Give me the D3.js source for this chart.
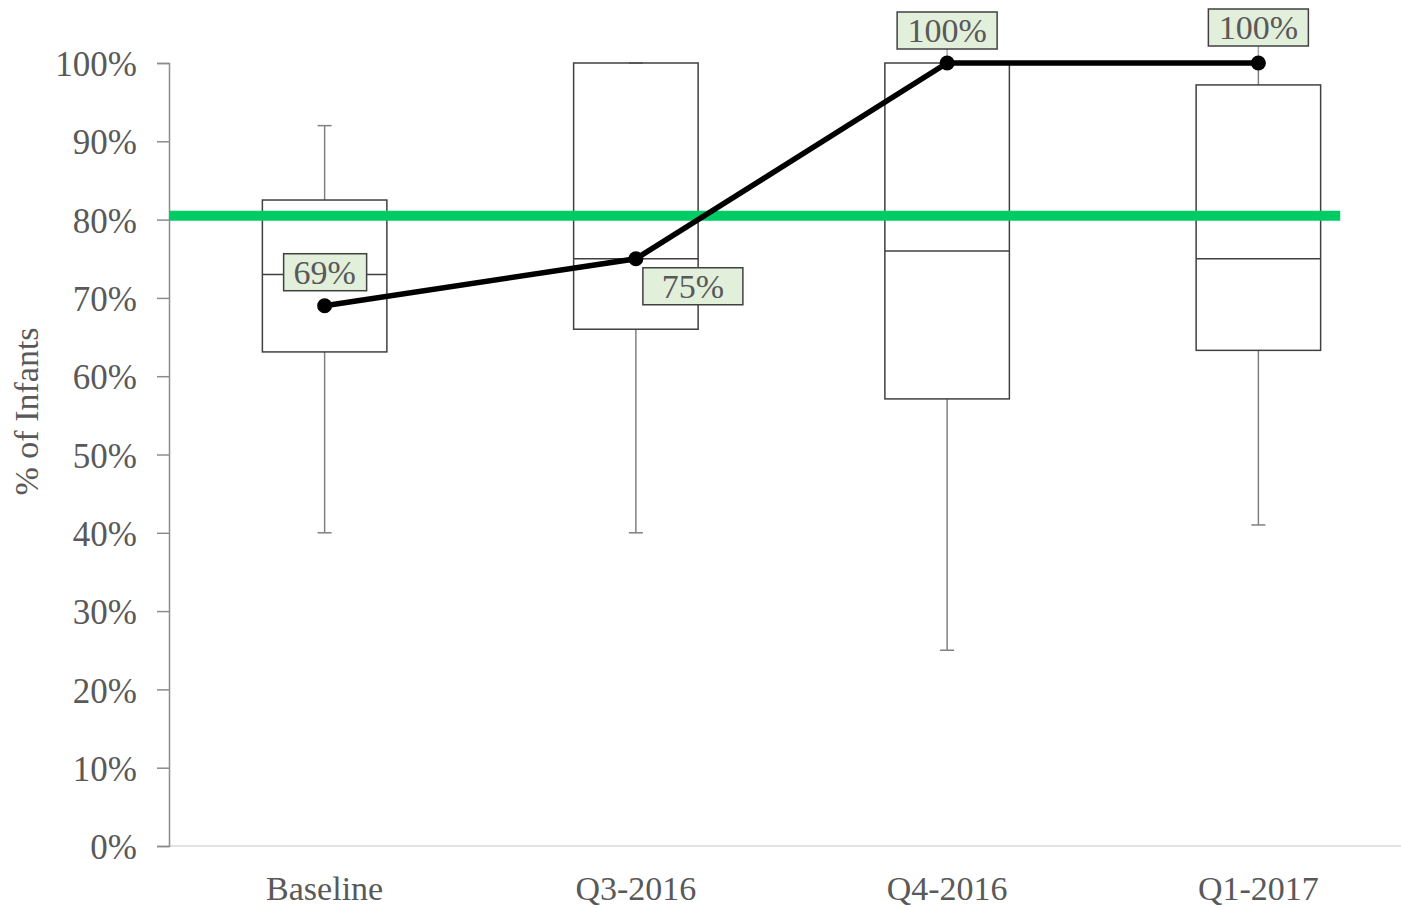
<!DOCTYPE html>
<html>
<head>
<meta charset="utf-8">
<script src="https://cdn.jsdelivr.net/npm/d3@7"></script>
<style>
  body { margin: 0; background: #fff; }
  svg text { font-family: "Liberation Serif", "DejaVu Serif", serif; fill: #595959; }
</style>
</head>
<body>
<svg id="chart"></svg>
<script>
var categories = ["Baseline", "Q3-2016", "Q4-2016", "Q1-2017"];
var whiskerMin = [40, 40, 25, 41];
var boxQ1 = [63.1, 66, 57.1, 63.3];
var boxMedian = [73, 75, 76, 75];
var boxQ3 = [82.5, 100, 100, 97.2];
var whiskerMax = [92, 100, 100, 100];
var lineValues = [69, 75, 100, 100];
var lineLabels = ["69%", "75%", "100%", "100%"];
var target = 80.5;
var yTicks = [0, 10, 20, 30, 40, 50, 60, 70, 80, 90, 100];

var w = 1401;
var h = 908;

var svg = d3.select("#chart")
  .attr("width", w)
  .attr("height", h);

var xScale = d3.scaleBand()
  .domain(categories)
  .range([169, 1414])
  .padding(0);

var yScale = d3.scaleLinear()
  .domain([0, 100])
  .range([846, 63]);

var bw = xScale.bandwidth();
var boxW = bw * 0.4;
function cx(c) { return xScale(c) + bw / 2; }

// x axis line
svg.append("line")
  .attr("x1", 169).attr("x2", w)
  .attr("y1", yScale(0)).attr("y2", yScale(0))
  .attr("stroke", "#d9d9d9").attr("stroke-width", 1.5);

var xAxis = d3.axisBottom(xScale).tickSize(0).tickPadding(30);
var gx = svg.append("g")
  .attr("transform", "translate(0," + yScale(0) + ")")
  .call(xAxis);
gx.select(".domain").remove();
gx.selectAll("text").attr("font-size", 34).attr("fill", "#595959")
  .style("font-family", "'Liberation Serif', serif");

var yAxis = d3.axisLeft(yScale)
  .tickValues(yTicks)
  .tickSizeOuter(0)
  .tickSize(12)
  .tickPadding(20)
  .tickFormat(function(d){ return d + "%"; });
var gy = svg.append("g")
  .attr("transform", "translate(169,0)")
  .call(yAxis);
gy.select(".domain").attr("stroke", "#8c8c8c").attr("stroke-width", 1.5);
gy.selectAll(".tick line").attr("stroke", "#8c8c8c").attr("stroke-width", 1.5);
gy.selectAll("text").attr("font-size", 35).attr("fill", "#595959")
  .attr("dy", "0.36em")
  .style("font-family", "'Liberation Serif', serif");

svg.append("text")
  .attr("transform", "translate(38," + yScale(55.5) + ") rotate(-90)")
  .attr("text-anchor", "middle")
  .attr("font-size", 34)
  .text("% of Infants");

// whiskers
var boxes = svg.append("g").selectAll("g")
  .data(categories)
  .enter().append("g");

boxes.append("line")
  .attr("x1", function(d){ return cx(d); })
  .attr("x2", function(d){ return cx(d); })
  .attr("y1", function(d, i){ return yScale(whiskerMin[i]); })
  .attr("y2", function(d, i){ return yScale(boxQ1[i]); })
  .attr("stroke", "#808080").attr("stroke-width", 1.5);
boxes.append("line")
  .attr("x1", function(d){ return cx(d); })
  .attr("x2", function(d){ return cx(d); })
  .attr("y1", function(d, i){ return yScale(whiskerMax[i]); })
  .attr("y2", function(d, i){ return yScale(boxQ3[i]); })
  .attr("stroke", "#808080").attr("stroke-width", 1.5);
boxes.append("line")
  .attr("x1", function(d){ return cx(d) - 7; })
  .attr("x2", function(d){ return cx(d) + 7; })
  .attr("y1", function(d, i){ return yScale(whiskerMin[i]); })
  .attr("y2", function(d, i){ return yScale(whiskerMin[i]); })
  .attr("stroke", "#808080").attr("stroke-width", 1.5);
boxes.append("line")
  .attr("x1", function(d){ return cx(d) - 7; })
  .attr("x2", function(d){ return cx(d) + 7; })
  .attr("y1", function(d, i){ return yScale(whiskerMax[i]); })
  .attr("y2", function(d, i){ return yScale(whiskerMax[i]); })
  .attr("stroke", "#808080").attr("stroke-width", 1.5);

boxes.append("rect")
  .attr("x", function(d){ return cx(d) - boxW / 2; })
  .attr("width", boxW)
  .attr("y", function(d, i){ return yScale(boxQ3[i]); })
  .attr("height", function(d, i){ return yScale(boxQ1[i]) - yScale(boxQ3[i]); })
  .attr("fill", "none")
  .attr("stroke", "#404040").attr("stroke-width", 1.5);
boxes.append("line")
  .attr("x1", function(d){ return cx(d) - boxW / 2; })
  .attr("x2", function(d){ return cx(d) + boxW / 2; })
  .attr("y1", function(d, i){ return yScale(boxMedian[i]); })
  .attr("y2", function(d, i){ return yScale(boxMedian[i]); })
  .attr("stroke", "#404040").attr("stroke-width", 1.5);

// target line
svg.append("line")
  .attr("x1", xScale(categories[0]))
  .attr("x2", cx(categories[3]) + bw * 0.263)
  .attr("y1", yScale(target)).attr("y2", yScale(target))
  .attr("stroke", "#00cc66").attr("stroke-width", 10);

// trend line
var line = d3.line()
  .x(function(d, i){ return cx(categories[i]); })
  .y(function(d){ return yScale(d); });
svg.append("path")
  .datum(lineValues)
  .attr("d", line)
  .attr("fill", "none")
  .attr("stroke", "#000").attr("stroke-width", 5.5);

// labels
var labelOffsets = [[0, -34], [57, 27], [0, -33], [0, -36]];
var lbl = svg.append("g").selectAll("g")
  .data(lineValues)
  .enter().append("g")
  .attr("transform", function(d, i){
    return "translate(" + (cx(categories[i]) + labelOffsets[i][0]) + "," + (yScale(d) + labelOffsets[i][1]) + ")";
  });
lbl.filter(function(d, i){ return i >= 2; }).append("line")
  .attr("x1", 0).attr("x2", 0)
  .attr("y1", 18).attr("y2", function(d, i){ return -labelOffsets[i + 2][1]; })
  .attr("stroke", "#a6a6a6").attr("stroke-width", 1.5);
lbl.append("rect")
  .attr("x", function(d, i){ return i == 0 ? -41 : -50; })
  .attr("width", function(d, i){ return i == 0 ? 83 : 100; })
  .attr("y", -18).attr("height", 37)
  .attr("fill", "#e2efda")
  .attr("stroke", "#404040").attr("stroke-width", 1.5);
lbl.append("text")
  .attr("text-anchor", "middle")
  .attr("dy", "0.35em")
  .attr("font-size", 34)
  .text(function(d, i){ return lineLabels[i]; });

svg.append("g").selectAll("circle")
  .data(lineValues)
  .enter().append("circle")
  .attr("cx", function(d, i){ return cx(categories[i]); })
  .attr("cy", function(d){ return yScale(d); })
  .attr("r", 7.5)
  .attr("fill", "#000");
</script>
</body>
</html>
